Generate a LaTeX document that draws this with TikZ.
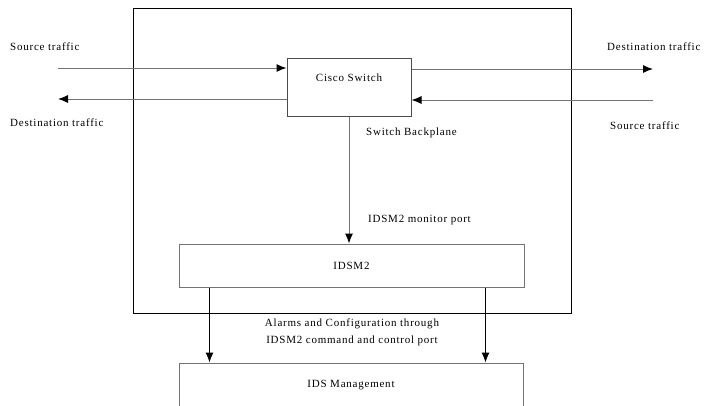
\documentclass[tikz,border=0pt]{standalone}
\usepackage{fontspec}
\setmainfont{Liberation Serif}[LetterSpace=7]
\usetikzlibrary{arrows.meta, positioning}

\begin{document}
\begin{tikzpicture}[x = 1pt, y = -1pt, font = \fontsize{11}{13}\selectfont,
		box/.style = {draw = black!55, line width = 1pt, inner sep = 0pt},
		flow/.style = {draw = black!55, line width = 1pt, -{Latex[length = 10pt, width = 8pt, color = black]}},
		tag/.style = {anchor = west, inner sep = 0pt}]
		\useasboundingbox (0,0) rectangle (705,405);

		\node[draw, line width = 0.9pt, minimum width = 438, minimum height = 305] (chassis) at (352,160.5) {};

		\node[box, draw = black!70, minimum width = 124, minimum height = 58,
			label = {[anchor = center, yshift = -20pt]north:Cisco Switch}] (switch) at (349,87) {};
		\node[box, minimum width = 345, minimum height = 43] (idsm) at (351.5,265.5) {IDSM2};
		\node[box, minimum width = 344, minimum height = 60,
			label = {[anchor = center, yshift = -23pt]north:IDS Management}] (mgmt) at (351,393) {};

		\coordinate (srcL) at (58,68);
		\coordinate (dstL) at (58,99);
		\coordinate (dstR) at (653,69);
		\coordinate (srcR) at (653,100);

		\draw[flow] (srcL) -- (srcL -| switch.west);
		\draw[flow] (switch.west |- dstL) -- (dstL);
		\draw[flow] (switch.east |- dstR) -- (dstR);
		\draw[flow] (srcR) -- (srcR -| switch.east);

		\node[tag] (srcLtxt) at (10,47) {Source traffic};
		\node[tag] (dstLtxt) at (10,123) {Destination traffic};
		\node[tag] (dstRtxt) at (607,47) {Destination traffic};
		\node[tag] (srcRtxt) at (610,126) {Source traffic};

		\draw[flow] (switch.south) -- (switch.south |- idsm.north);
		\node[tag] (backplane) at (366,133) {Switch Backplane};
		\node[tag] (monitor) at (368,220) {IDSM2 monitor port};

		\begin{scope}[flow, draw = black]
			\draw ([xshift = 31pt]idsm.south west) -- ([xshift = 31pt]mgmt.north west);
			\draw ([xshift = -39pt]idsm.south east) -- ([xshift = -38pt]mgmt.north east);
		\end{scope}
		\node[align = center, inner sep = 0pt] (alarms) at (352,332)
			{Alarms and Configuration through\\[4pt] IDSM2 command and control port};
	\end{tikzpicture}
\end{document}
